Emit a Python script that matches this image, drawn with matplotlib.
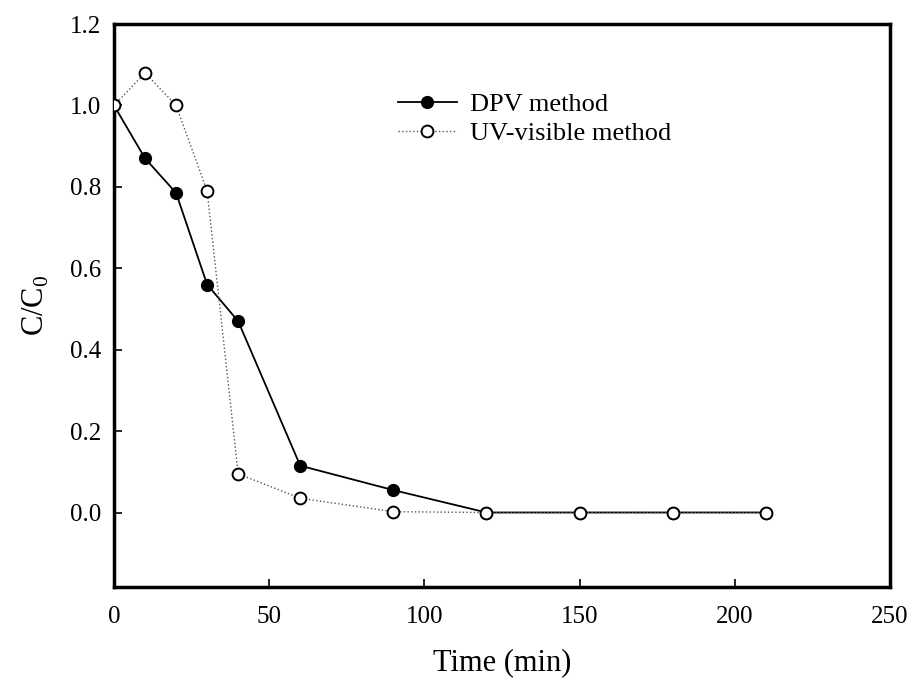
import matplotlib
matplotlib.use("Agg")
import matplotlib.pyplot as plt

plt.rcParams['font.family'] = ['Liberation Serif', 'DejaVu Serif']
plt.rcParams['mathtext.fontset'] = 'custom'
plt.rcParams['mathtext.rm'] = 'Liberation Serif'

temps = [0, 10, 20, 30, 40, 60, 90, 120, 150, 180, 210]
dpv = [1.0, 0.87, 0.785, 0.56, 0.47, 0.115, 0.055, 0.0, 0.0, 0.0, 0.0]
uv = [1.0, 1.08, 1.0, 0.79, 0.095, 0.035, 0.002, 0.0, 0.0, 0.0, 0.0]

fig = plt.figure(figsize=(9.14, 6.8), dpi=100)
ax = fig.add_axes([114/914, 1 - 587/680, (890 - 114)/914, (587 - 24)/680])

ax.plot(temps, dpv, '-', color='black', lw=1.3, marker='o', ms=8.5,
        mfc='black', mec='black', label='DPV method', zorder=3)
ax.plot(temps, uv, ':', color='#555555', lw=1.0, marker='o', ms=8.5,
        mfc='white', mec='black', mew=1.4, label='UV-visible method', zorder=4)

ax.set_xlim(0, 250)
ax.set_ylim(-0.183, 1.2)
ax.set_xticks([0, 50, 100, 150, 200, 250])
ax.set_yticks([0.0, 0.2, 0.4, 0.6, 0.8, 1.0, 1.2])
ax.set_yticklabels(['0.0', '0.2', '0.4', '0.6', '0.8', '1.0', '1.2'])
ax.tick_params(direction='in', length=6, width=1.2, labelsize=18)
ax.tick_params(axis='y', pad=9)
ax.tick_params(axis='x', pad=14)
for s in ax.spines.values():
    s.set_linewidth(2.5)

ax.set_xlabel('Time (min)', fontsize=22, labelpad=14)
ax.set_ylabel(r'C/C$_0$', fontsize=22, labelpad=14)

ax.legend(loc='upper left', bbox_to_anchor=(0.335, 0.92), frameon=False,
          fontsize=19, handlelength=2.25, handletextpad=0.5, labelspacing=0.2)

fig.savefig('out.png', dpi=100)
